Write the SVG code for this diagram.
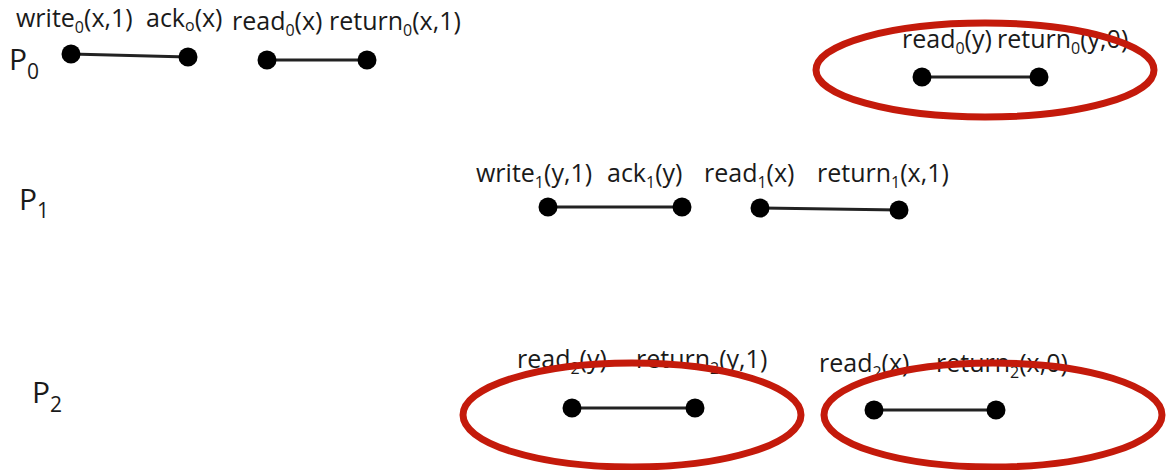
<svg xmlns="http://www.w3.org/2000/svg" width="1171" height="470" viewBox="0 0 1171 470">
<style>
text{font-family:"Open Sans","Liberation Sans",sans-serif;fill:#1a1a1a}
.lb{font-size:25px}
.pl{font-size:30px}
.s{font-size:16px}
.ps{font-size:21px}
.dot{fill:#000}
.seg{stroke:#222;stroke-width:3}
.ring{fill:none;stroke:#c41a0b;stroke-width:7}
</style>
<rect width="1171" height="470" fill="#fff"/>
<g id="labels">
<text class="pl" x="9" y="70">P<tspan class="ps" dy="9">0</tspan></text>
<text class="pl" x="19" y="210">P<tspan class="ps" dy="8">1</tspan></text>
<text class="pl" x="32" y="403">P<tspan class="ps" dy="9">2</tspan></text>
</g>
<g id="p0-write">
<text class="lb" x="16" y="27">write<tspan class="s" dy="6">0</tspan><tspan dy="-6">(x,1)</tspan></text>
<text class="lb" x="146" y="27">ack<tspan class="s" dy="4">o</tspan><tspan dy="-4">(x)</tspan></text>
</g>
<g id="p0-read">
<text class="lb" x="232" y="30">read<tspan class="s" dy="6">0</tspan><tspan dy="-6">(x)</tspan></text>
<text class="lb" x="329" y="30">return<tspan class="s" dy="6">0</tspan><tspan dy="-6">(x,1)</tspan></text>
</g>
<g id="p0-read-y">
<text class="lb" x="902" y="48">read<tspan class="s" dy="6">0</tspan><tspan dy="-6">(y)</tspan></text>
<text class="lb" x="997" y="48">return<tspan class="s" dy="6">0</tspan><tspan dy="-6">(y,0)</tspan></text>
</g>
<g id="p1-write">
<text class="lb" x="476" y="182">write<tspan class="s" dy="6">1</tspan><tspan dy="-6">(y,1)</tspan></text>
<text class="lb" x="607" y="182">ack<tspan class="s" dy="6">1</tspan><tspan dy="-6">(y)</tspan></text>
</g>
<g id="p1-read">
<text class="lb" x="704" y="182">read<tspan class="s" dy="6">1</tspan><tspan dy="-6">(x)</tspan></text>
<text class="lb" x="817" y="182">return<tspan class="s" dy="6">1</tspan><tspan dy="-6">(x,1)</tspan></text>
</g>
<g id="p2-read-y">
<text class="lb" x="517" y="368">read<tspan class="s" dy="6">2</tspan><tspan dy="-6">(y)</tspan></text>
<text class="lb" x="636" y="368">return<tspan class="s" dy="6">2</tspan><tspan dy="-6">(y,1)</tspan></text>
</g>
<g id="p2-read-x">
<text class="lb" x="819" y="372">read<tspan class="s" dy="6">2</tspan><tspan dy="-6">(x)</tspan></text>
<text class="lb" x="936" y="372">return<tspan class="s" dy="6">2</tspan><tspan dy="-6">(x,0)</tspan></text>
</g>
<g id="connectors">
<line class="seg" x1="71" y1="54" x2="188" y2="57"/>
<line class="seg" x1="267" y1="60" x2="367" y2="60"/>
<line class="seg" x1="922" y1="77" x2="1039" y2="77"/>
<line class="seg" x1="548" y1="207" x2="682" y2="207"/>
<line class="seg" x1="760" y1="208" x2="899" y2="210"/>
<line class="seg" x1="572" y1="408" x2="695" y2="408"/>
<line class="seg" x1="874" y1="410" x2="996" y2="410"/>
</g>
<g id="events">
<circle class="dot" cx="71" cy="54" r="9.5"/>
<circle class="dot" cx="188" cy="57" r="9.5"/>
<circle class="dot" cx="267" cy="60" r="9.5"/>
<circle class="dot" cx="367" cy="60" r="9.5"/>
<circle class="dot" cx="922" cy="77" r="9.5"/>
<circle class="dot" cx="1039" cy="77" r="9.5"/>
<circle class="dot" cx="548" cy="207" r="9.5"/>
<circle class="dot" cx="682" cy="207" r="9.5"/>
<circle class="dot" cx="760" cy="208" r="9.5"/>
<circle class="dot" cx="899" cy="210" r="9.5"/>
<circle class="dot" cx="572" cy="408" r="9.5"/>
<circle class="dot" cx="695" cy="408" r="9.5"/>
<circle class="dot" cx="874" cy="410" r="9.5"/>
<circle class="dot" cx="996" cy="410" r="9.5"/>
</g>
<g id="highlights">
<ellipse class="ring" cx="985" cy="70" rx="169" ry="47"/>
<ellipse class="ring" cx="632" cy="415" rx="169" ry="52"/>
<ellipse class="ring" cx="993" cy="415" rx="169" ry="52"/>
</g>
</svg>
